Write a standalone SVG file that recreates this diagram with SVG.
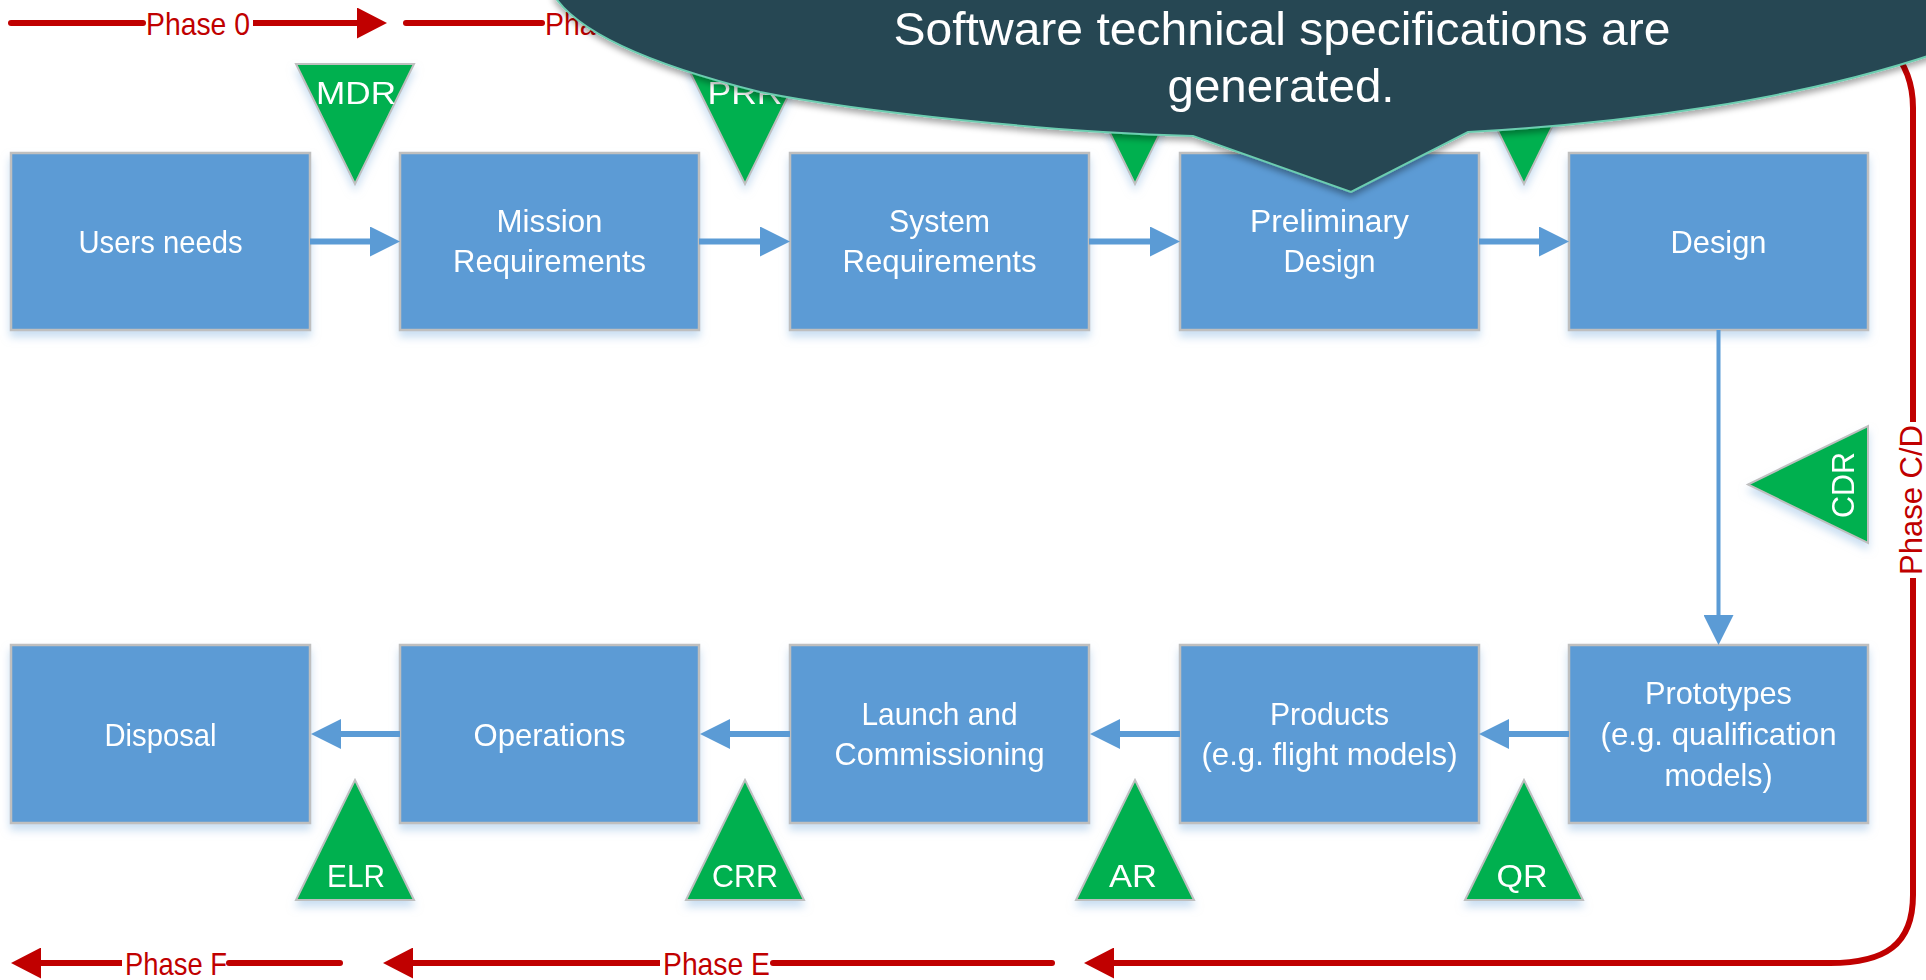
<svg xmlns="http://www.w3.org/2000/svg" width="1926" height="980" viewBox="0 0 1926 980">
  <defs>
    <style>
      .box { fill: #5B9BD5; stroke: #BFBFBF; stroke-width: 2.5; }
      .tri { fill: #00B050; stroke: #BFBFBF; stroke-width: 2; }
      .lbl { font-family: "Liberation Sans", Arial, sans-serif; font-size: 32px; fill: #FFFFFF; text-anchor: middle; }
      .ph { font-family: "Liberation Sans", Arial, sans-serif; font-size: 32px; fill: #C00000; text-anchor: middle; }
      .flow { stroke: #5B9BD5; fill: none; }
      .phase { stroke: #C00000; fill: none; stroke-width: 6; }
      .note { fill: #264653; stroke: #6CCDB0; stroke-width: 2; }
      .notetxt { font-family: "Liberation Sans", Arial, sans-serif; font-size: 46px; fill: #FFFFFF; text-anchor: middle; }
    </style>
    <filter id="soft" x="-15%" y="-15%" width="130%" height="140%">
      <feDropShadow dx="0" dy="6" stdDeviation="4" flood-color="#9DC3E6" flood-opacity="0.55"/>
    </filter>
    <filter id="noteShadow" x="-5%" y="-10%" width="110%" height="130%">
      <feDropShadow dx="0" dy="4" stdDeviation="3" flood-color="#000000" flood-opacity="0.35"/>
    </filter>
    <marker id="blueHead" markerWidth="30" markerHeight="30" refX="0" refY="15" orient="auto" markerUnits="userSpaceOnUse">
      <path d="M0,0 L30,15 L0,30 Z" fill="#5B9BD5"/>
    </marker>
    <marker id="redHead" markerWidth="30" markerHeight="31" refX="0" refY="15.5" orient="auto" markerUnits="userSpaceOnUse">
      <path d="M0,0 L30,15.5 L0,31 Z" fill="#C00000"/>
    </marker>
  </defs>

  <rect x="0" y="0" width="1926" height="980" fill="#FFFFFF"/>

  <!-- phase bars -->
  <g id="phases">
    <line class="phase" x1="11" y1="23" x2="143" y2="23" stroke-linecap="round"/>
    <text class="ph" x="198" y="34.5" textLength="104" lengthAdjust="spacingAndGlyphs">Phase 0</text>
    <line class="phase" x1="253" y1="23" x2="357" y2="23" marker-end="url(#redHead)"/>
    <line class="phase" x1="406" y1="23" x2="542" y2="23" stroke-linecap="round"/>
    <text class="ph" x="598" y="34.5" textLength="106" lengthAdjust="spacingAndGlyphs">Phase A</text>

    <path class="phase" stroke-width="4.5" d="M1700 23 H1829 C1880 23 1913 60 1913 108 V422"/>
    <text class="ph" font-size="30" transform="translate(1922 500) rotate(-90)" x="0" y="0" textLength="150" lengthAdjust="spacingAndGlyphs">Phase C/D</text>
    <path class="phase" stroke-width="4.5" d="M1913 578 V895 C1913 945 1885 963 1830 963"/>
    <line class="phase" x1="1832" y1="963" x2="1114" y2="963" marker-end="url(#redHead)"/>

    <line class="phase" x1="1052" y1="963" x2="773" y2="963" stroke-linecap="round"/>
    <text class="ph" x="716.5" y="974.5" textLength="107" lengthAdjust="spacingAndGlyphs">Phase E</text>
    <line class="phase" x1="660" y1="963" x2="413" y2="963" marker-end="url(#redHead)"/>

    <line class="phase" x1="340" y1="963" x2="229" y2="963" stroke-linecap="round"/>
    <text class="ph" x="176" y="974.5" textLength="102" lengthAdjust="spacingAndGlyphs">Phase F</text>
    <line class="phase" x1="122" y1="963" x2="41" y2="963" marker-end="url(#redHead)"/>
  </g>

  <!-- process steps -->
  <g id="users-needs" filter="url(#soft)">
    <rect class="box" x="11" y="153" width="299" height="177"/>
    <text class="lbl" x="160.5" y="253" textLength="164" lengthAdjust="spacingAndGlyphs">Users needs</text>
  </g>
  <g id="mission-requirements" filter="url(#soft)">
    <rect class="box" x="400" y="153" width="299" height="177"/>
    <text class="lbl" x="549.5" y="232" textLength="106" lengthAdjust="spacingAndGlyphs">Mission</text>
    <text class="lbl" x="549.5" y="272" textLength="193" lengthAdjust="spacingAndGlyphs">Requirements</text>
  </g>
  <g id="system-requirements" filter="url(#soft)">
    <rect class="box" x="790" y="153" width="299" height="177"/>
    <text class="lbl" x="939.5" y="232" textLength="101" lengthAdjust="spacingAndGlyphs">System</text>
    <text class="lbl" x="939.5" y="272" textLength="194" lengthAdjust="spacingAndGlyphs">Requirements</text>
  </g>
  <g id="preliminary-design" filter="url(#soft)">
    <rect class="box" x="1180" y="153" width="299" height="177"/>
    <text class="lbl" x="1329.5" y="232" textLength="159" lengthAdjust="spacingAndGlyphs">Preliminary</text>
    <text class="lbl" x="1329.5" y="272" textLength="92" lengthAdjust="spacingAndGlyphs">Design</text>
  </g>
  <g id="design" filter="url(#soft)">
    <rect class="box" x="1569" y="153" width="299" height="177"/>
    <text class="lbl" x="1718.5" y="253" textLength="96" lengthAdjust="spacingAndGlyphs">Design</text>
  </g>
  <g id="prototypes" filter="url(#soft)">
    <rect class="box" x="1569" y="645" width="299" height="178"/>
    <text class="lbl" x="1718.5" y="704" textLength="147" lengthAdjust="spacingAndGlyphs">Prototypes</text>
    <text class="lbl" x="1718.5" y="745" textLength="236" lengthAdjust="spacingAndGlyphs">(e.g. qualification</text>
    <text class="lbl" x="1718.5" y="786" textLength="108" lengthAdjust="spacingAndGlyphs">models)</text>
  </g>
  <g id="products" filter="url(#soft)">
    <rect class="box" x="1180" y="645" width="299" height="178"/>
    <text class="lbl" x="1329.5" y="725" textLength="119" lengthAdjust="spacingAndGlyphs">Products</text>
    <text class="lbl" x="1329.5" y="765" textLength="256" lengthAdjust="spacingAndGlyphs">(e.g. flight models)</text>
  </g>
  <g id="launch" filter="url(#soft)">
    <rect class="box" x="790" y="645" width="299" height="178"/>
    <text class="lbl" x="939.5" y="725" textLength="156" lengthAdjust="spacingAndGlyphs">Launch and</text>
    <text class="lbl" x="939.5" y="765" textLength="210" lengthAdjust="spacingAndGlyphs">Commissioning</text>
  </g>
  <g id="operations" filter="url(#soft)">
    <rect class="box" x="400" y="645" width="299" height="178"/>
    <text class="lbl" x="549.5" y="746" textLength="152" lengthAdjust="spacingAndGlyphs">Operations</text>
  </g>
  <g id="disposal" filter="url(#soft)">
    <rect class="box" x="11" y="645" width="299" height="178"/>
    <text class="lbl" x="160.5" y="746" textLength="112" lengthAdjust="spacingAndGlyphs">Disposal</text>
  </g>

  <!-- review milestones -->
  <g id="review-mdr" filter="url(#soft)">
    <polygon class="tri" points="296,64 414,64 355,184"/>
    <text class="lbl" x="356" y="104" textLength="80" lengthAdjust="spacingAndGlyphs">MDR</text>
  </g>
  <g id="review-prr" filter="url(#soft)">
    <polygon class="tri" points="686,64 804,64 745,184"/>
    <text class="lbl" x="745" y="104" textLength="75" lengthAdjust="spacingAndGlyphs">PRR</text>
  </g>
  <g id="review-3" filter="url(#soft)">
    <polygon class="tri" points="1076,64 1194,64 1135,184"/>
  </g>
  <g id="review-4" filter="url(#soft)">
    <polygon class="tri" points="1465,64 1583,64 1524,184"/>
  </g>
  <g id="review-cdr" filter="url(#soft)">
    <polygon class="tri" points="1868,426 1868,543 1748,484.5"/>
    <text class="lbl" transform="translate(1854 485) rotate(-90)" x="0" y="0" textLength="66" lengthAdjust="spacingAndGlyphs">CDR</text>
  </g>
  <g id="review-qr" filter="url(#soft)">
    <polygon class="tri" points="1465,900 1583,900 1524,780"/>
    <text class="lbl" x="1522" y="887" textLength="51" lengthAdjust="spacingAndGlyphs">QR</text>
  </g>
  <g id="review-ar" filter="url(#soft)">
    <polygon class="tri" points="1076,900 1194,900 1135,780"/>
    <text class="lbl" x="1133" y="887" textLength="48" lengthAdjust="spacingAndGlyphs">AR</text>
  </g>
  <g id="review-crr" filter="url(#soft)">
    <polygon class="tri" points="686,900 804,900 745,780"/>
    <text class="lbl" x="745" y="887" textLength="66" lengthAdjust="spacingAndGlyphs">CRR</text>
  </g>
  <g id="review-elr" filter="url(#soft)">
    <polygon class="tri" points="296,900 414,900 355,780"/>
    <text class="lbl" x="356" y="887" textLength="58" lengthAdjust="spacingAndGlyphs">ELR</text>
  </g>

  <!-- flow connectors -->
  <g id="connectors">
    <line class="flow" stroke-width="6" x1="310" y1="241.5" x2="370" y2="241.5" marker-end="url(#blueHead)"/>
    <line class="flow" stroke-width="6" x1="699" y1="241.5" x2="760" y2="241.5" marker-end="url(#blueHead)"/>
    <line class="flow" stroke-width="6" x1="1089" y1="241.5" x2="1150" y2="241.5" marker-end="url(#blueHead)"/>
    <line class="flow" stroke-width="6" x1="1479" y1="241.5" x2="1539" y2="241.5" marker-end="url(#blueHead)"/>
    <line class="flow" stroke-width="4" x1="1718.5" y1="330" x2="1718.5" y2="615" marker-end="url(#blueHead)"/>
    <line class="flow" stroke-width="6" x1="1569" y1="734" x2="1509" y2="734" marker-end="url(#blueHead)"/>
    <line class="flow" stroke-width="6" x1="1180" y1="734" x2="1120" y2="734" marker-end="url(#blueHead)"/>
    <line class="flow" stroke-width="6" x1="790" y1="734" x2="730" y2="734" marker-end="url(#blueHead)"/>
    <line class="flow" stroke-width="6" x1="400" y1="734" x2="341" y2="734" marker-end="url(#blueHead)"/>
  </g>

  <!-- speech callout -->
  <g id="callout" filter="url(#noteShadow)">
    <path class="note" d="M553 -6 C575 30 640 62 760 92 C860 112 1050 132 1193 136 L1351 192 L1468 132 C1620 124 1800 100 1940 52 L1940 -6 Z"/>
    <text class="notetxt" x="1282" y="45" textLength="777" lengthAdjust="spacingAndGlyphs">Software technical specifications are</text>
    <text class="notetxt" x="1281" y="102" textLength="227" lengthAdjust="spacingAndGlyphs">generated.</text>
  </g>
</svg>
